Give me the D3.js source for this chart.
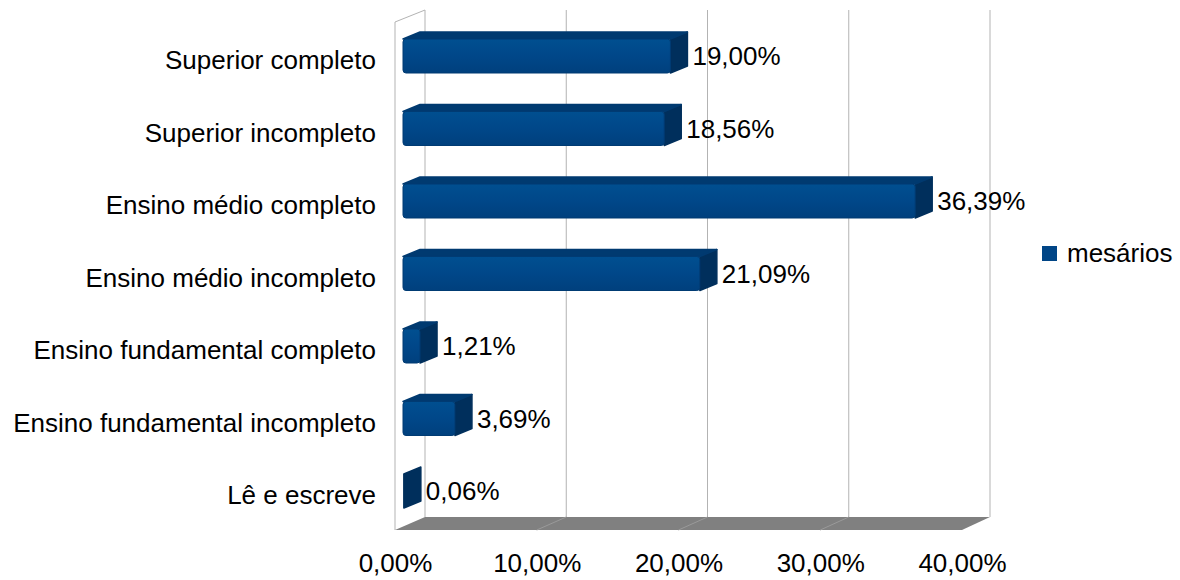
<!DOCTYPE html>
<html><head><meta charset="utf-8">
<script src="https://cdn.jsdelivr.net/npm/d3@7"></script>
<style>html,body{margin:0;padding:0;background:#fff;}svg{display:block;font-family:"Liberation Sans",Arial,sans-serif;}</style>
</head><body>
<svg id="chart" width="1180" height="580"></svg>
<script>
const categories = ["Superior completo","Superior incompleto","Ensino médio completo","Ensino médio incompleto","Ensino fundamental completo","Ensino fundamental incompleto","Lê e escreve"];
const values = [19.00, 18.56, 36.39, 21.09, 1.21, 3.69, 0.06];
const seriesName = "mesários";
const tickValues = [0, 10, 20, 30, 40];

const svg = d3.select("#chart");
const pt = d3.formatLocale({decimal:",", thousands:".", grouping:[3], currency:["R$",""]});
const fmt = v => pt.format(".2f")(v) + "%";
const FS = 26;

// planes
const wallTop = 10, wallBottom = 517, floorFront = 530;
const xBack = d3.scaleLinear().domain([0,40]).range([425, 990]);
const xFloor = d3.scaleLinear().domain([0,40]).range([395, 962]);
const xBar = d3.scaleLinear().domain([0,40]).range([403, 966]);
const y = d3.scaleBand().domain(categories).range([19.75, 527.25]).padding(0);
const barH = 34, dX = 17, dY = -7;

const grid = "#b3b3b3";
// back wall gridlines
svg.append("g").selectAll("line").data(tickValues).join("line")
  .attr("x1", d => xBack(d)).attr("x2", d => xBack(d))
  .attr("y1", wallTop).attr("y2", wallBottom)
  .attr("stroke", grid).attr("stroke-width", 1);
// left wall
svg.append("path")
  .attr("d", `M${xFloor(0)},${floorFront} L${xFloor(0)},${wallTop+12} L${xBack(0)},${wallTop}`)
  .attr("fill", "none").attr("stroke", grid);
// floor
svg.append("path")
  .attr("d", `M${xBack(0)},${wallBottom} L${xBack(40)},${wallBottom} L${xFloor(40)},${floorFront} L${xFloor(0)},${floorFront} Z`)
  .attr("fill", "#808080");
svg.append("g").selectAll("line").data(tickValues.slice(1, -1)).join("line")
  .attr("x1", d => xBack(d)).attr("y1", wallBottom)
  .attr("x2", d => xFloor(d)).attr("y2", floorFront)
  .attr("stroke", "#9a9a9a").attr("stroke-width", 1);

// defs gradients
const defs = svg.append("defs");
const gF = defs.append("linearGradient").attr("id","gFront").attr("x1",0).attr("y1",0).attr("x2",0).attr("y2",1);
gF.append("stop").attr("offset","0%").attr("stop-color","#004f90");
gF.append("stop").attr("offset","50%").attr("stop-color","#004789");
gF.append("stop").attr("offset","100%").attr("stop-color","#00407d");

// bars
const bars = svg.append("g").selectAll("g").data(categories).join("g");
bars.each(function(c, i) {
  const g = d3.select(this);
  const v = values[i];
  const x0 = xBar(0), x1 = xBar(v);
  const yt = y(c) + (y.step() - barH) / 2, yb = yt + barH;
  // side face
  g.append("path")
    .attr("d", `M${x1},${yt} L${x1+dX},${yt+dY} L${x1+dX},${yb+dY} L${x1},${yb} Z`)
    .attr("fill", "#002f5c").attr("stroke", "#002f5c").attr("stroke-width", 1.5).attr("stroke-linejoin","round");
  // top face
  if (x1 - x0 > 1) {
    g.append("path")
      .attr("d", `M${x0},${yt} L${x0+dX},${yt+dY} L${x1+dX},${yt+dY} L${x1},${yt} Z`)
      .attr("fill", "#003a70").attr("stroke", "#003a70").attr("stroke-width", 1.5).attr("stroke-linejoin","round");
    // front face
    g.append("rect")
      .attr("x", x0).attr("y", yt).attr("width", x1 - x0).attr("height", barH)
      .attr("rx", 3).attr("fill", "url(#gFront)").attr("stroke", "#003b73").attr("stroke-width", 1);
  }
  // value label
  g.append("text")
    .attr("x", x1 + dX + 5).attr("y", yt + barH/2 + 9)
    .attr("font-size", FS).attr("fill", "#000").text(fmt(v));
  // category label
  g.append("text")
    .attr("x", 376).attr("y", yt + barH/2 + 13)
    .attr("text-anchor", "end").attr("font-size", FS).attr("fill", "#000").text(c);
});

// x axis labels
const axis = d3.axisBottom(xFloor).tickValues(tickValues).tickFormat(fmt).tickSize(0).tickPadding(0);
const ax = svg.append("g").attr("transform", `translate(0,${floorFront+24})`).call(axis);
ax.select(".domain").remove();
ax.selectAll("text").attr("font-size", FS).attr("fill", "#000")
  .attr("font-family", '"Liberation Sans",Arial,sans-serif');

// legend
const lg = svg.append("g").attr("transform", "translate(1042,246)");
lg.append("rect").attr("width", 15).attr("height", 15).attr("fill", "#004586");
lg.append("text").attr("x", 25).attr("y", 16).attr("font-size", FS).attr("fill", "#000").text(seriesName);
</script>
</body></html>
